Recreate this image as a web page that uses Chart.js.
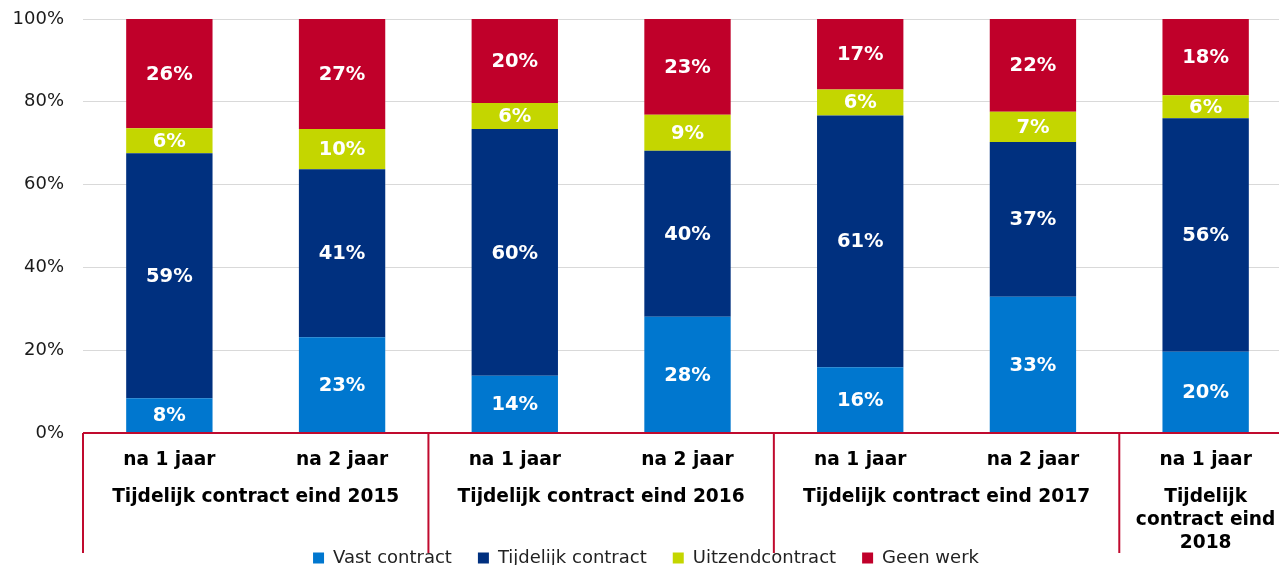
<!DOCTYPE html>
<html lang="nl">
<head>
    <meta charset="UTF-8">
    <title>Tijdelijk contract - situatie na 1 en 2 jaar</title>
    <script src="https://cdn.jsdelivr.net/npm/chart.js@4.4.0/dist/chart.umd.min.js"></script>
    <style>
        html, body { margin: 0; padding: 0; overflow: hidden; background: #fff; }
        #wrap { width: 1292px; height: 565px; }
    </style>
</head>
<body>
    <div id="wrap"><canvas id="barChart"></canvas></div>
    <script>
        const categories = ['na 1 jaar', 'na 2 jaar', 'na 1 jaar', 'na 2 jaar', 'na 1 jaar', 'na 2 jaar', 'na 1 jaar'];
        const groupLabels = [
            ['Tijdelijk contract eind 2015'],
            ['Tijdelijk contract eind 2016'],
            ['Tijdelijk contract eind 2017'],
            ['Tijdelijk', 'contract eind', '2018']
        ];
        const groupSizes = [2, 2, 2, 1];

        const vastContract      = [8.4, 23.1, 13.8, 28.1, 15.9, 32.9, 19.6];
        const tijdelijkContract = [59.2, 40.6, 59.6, 40.1, 60.8, 37.4, 56.4];
        const uitzendContract   = [6.0, 9.7, 6.3, 8.7, 6.3, 7.3, 5.6];
        const geenWerk          = [26.4, 26.6, 20.3, 23.1, 17.0, 22.4, 18.4];

        const yTicks = [0, 20, 40, 60, 80, 100];

        const RED = '#c00a2e';
        const FONT = "'DejaVu Sans', Verdana, sans-serif";

        // white percentage inside every segment
        const segmentLabels = {
            id: 'segmentLabels',
            afterDatasetsDraw(chart) {
                const ctx = chart.ctx;
                ctx.save();
                ctx.fillStyle = '#fff';
                ctx.font = 'bold 19.5px ' + FONT;
                ctx.textAlign = 'center';
                ctx.textBaseline = 'middle';
                chart.data.datasets.forEach((ds, i) => {
                    chart.getDatasetMeta(i).data.forEach((bar, j) => {
                        const v = ds.data[j];
                        ctx.fillText(Math.round(v) + '%', bar.x, (bar.y + bar.base) / 2 + 1);
                    });
                });
                ctx.restore();
            }
        };

        // group captions under the x ticks and the red separators
        const groupAxis = {
            id: 'groupAxis',
            afterDraw(chart) {
                const ctx = chart.ctx;
                const x = chart.scales.x;
                const area = chart.chartArea;
                const step = x.width / categories.length;
                ctx.save();
                ctx.strokeStyle = RED;
                ctx.lineWidth = 2;
                ctx.fillStyle = '#000';
                ctx.font = 'bold 18.6px ' + FONT;
                ctx.textAlign = 'center';
                ctx.textBaseline = 'middle';
                let start = 0;
                groupSizes.forEach((n, g) => {
                    const left = x.getPixelForValue(start) - step / 2;
                    ctx.beginPath();
                    ctx.moveTo(left, area.bottom);
                    ctx.lineTo(left, area.bottom + 120);
                    ctx.stroke();
                    const mid = (x.getPixelForValue(start) + x.getPixelForValue(start + n - 1)) / 2;
                    groupLabels[g].forEach((line, k) => {
                        ctx.fillText(line, mid, area.bottom + 64 + k * 23);
                    });
                    start += n;
                });
                ctx.beginPath();
                ctx.moveTo(area.left, area.bottom);
                ctx.lineTo(area.right, area.bottom);
                ctx.stroke();
                ctx.restore();
            }
        };

        const ctx = document.getElementById('barChart').getContext('2d');
        const barChart = new Chart(ctx, {
            type: 'bar',
            data: {
                labels: categories,
                datasets: [
                    { label: 'Vast contract', data: vastContract, backgroundColor: '#0077cf' },
                    { label: 'Tijdelijk contract', data: tijdelijkContract, backgroundColor: '#00307f' },
                    { label: 'Uitzendcontract', data: uitzendContract, backgroundColor: '#c4d600' },
                    { label: 'Geen werk', data: geenWerk, backgroundColor: '#c0002a' }
                ]
            },
            options: {
                responsive: true,
                maintainAspectRatio: false,
                animation: false,
                layout: { padding: { top: 19, bottom: -12, left: 0, right: 0 } },
                datasets: {
                    bar: { barPercentage: 0.5, categoryPercentage: 1.0 }
                },
                plugins: {
                    tooltip: { enabled: false },
                    legend: {
                        position: 'bottom',
                        labels: {
                            boxWidth: 11,
                            boxHeight: 11,
                            padding: 26,
                            color: '#222',
                            font: { family: FONT, size: 18 }
                        }
                    }
                },
                scales: {
                    x: {
                        stacked: true,
                        grid: { display: false },
                        border: { display: false },
                        ticks: {
                            color: '#000',
                            padding: 8,
                            maxRotation: 0,
                            font: { family: FONT, size: 18.6, weight: 'bold' }
                        },
                        afterFit(scale) {
                            scale.height = 90;
                            scale.paddingLeft = 0;
                            scale.paddingRight = 0;
                        }
                    },
                    y: {
                        stacked: true,
                        min: 0,
                        max: 100,
                        afterBuildTicks(scale) { scale.ticks = yTicks.map(v => ({ value: v })); },
                        grid: { color: '#d9d9d9', drawTicks: false },
                        border: { display: false },
                        ticks: {
                            color: '#1a1a1a',
                            padding: 19,
                            font: { family: FONT, size: 18 },
                            callback: v => v + '%'
                        },
                        afterFit(scale) {
                            scale.width = 83;
                            scale.paddingTop = 0;
                            scale.paddingBottom = 0;
                        }
                    }
                }
            },
            plugins: [segmentLabels, groupAxis]
        });
    </script>
</body>
</html>
